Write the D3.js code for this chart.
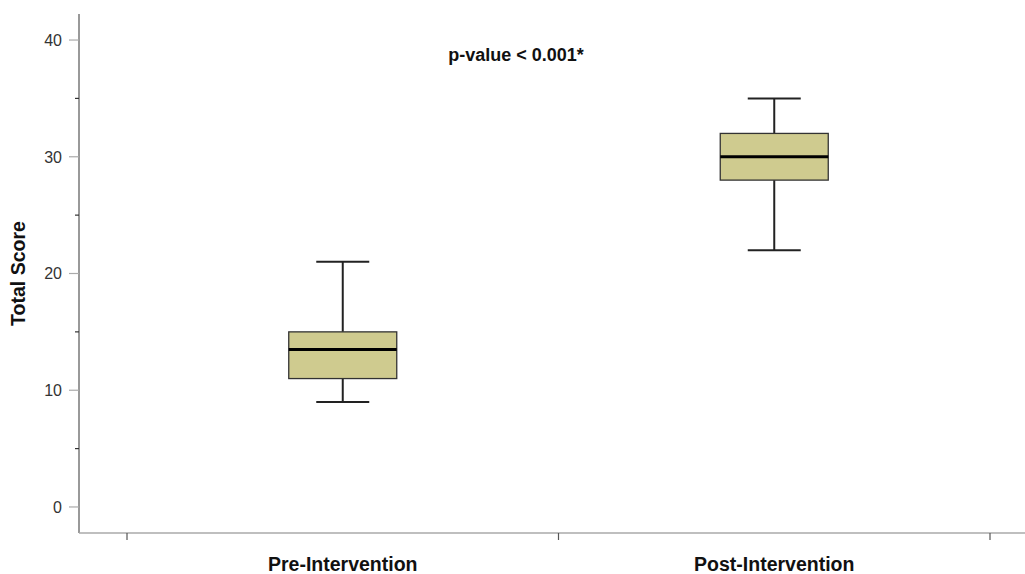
<!DOCTYPE html>
<html>
<head>
<meta charset="utf-8">
<script src="https://cdn.jsdelivr.net/npm/d3@7"></script>
<style>
  body { margin: 0; background: #fff; }
  svg { display: block; font-family: "Liberation Sans", Arial, sans-serif; }
</style>
</head>
<body>
<div id="chart"></div>
<script>
const groups = ["Pre-Intervention", "Post-Intervention"];
const whiskerLow = [9, 22];
const q1 = [11, 28];
const median = [13.5, 30];
const q3 = [15, 32];
const whiskerHigh = [21, 35];
const majorTicks = [0, 10, 20, 30, 40];
const minorTicks = [5, 15, 25, 35];
const annotation = "p-value < 0.001*";

const width = 1025, height = 574;
const svg = d3.select("#chart").append("svg")
  .attr("width", width)
  .attr("height", height);

const x = d3.scaleBand()
  .domain(groups)
  .range([127, 990])
  .paddingInner(0).paddingOuter(0);

const y = d3.scaleLinear()
  .domain([-2.23, 42.23])
  .range([533, 14]);

const left = 79, bottom = 533;

// y axis
svg.append("line")
  .attr("x1", left).attr("x2", left)
  .attr("y1", 14).attr("y2", bottom)
  .attr("stroke", "#555").attr("stroke-width", 1.2);

svg.selectAll(".major")
  .data(majorTicks)
  .enter().append("line")
  .attr("x1", left - 10).attr("x2", left)
  .attr("y1", d => y(d)).attr("y2", d => y(d))
  .attr("stroke", "#aaa").attr("stroke-width", 1.2);

svg.selectAll(".minor")
  .data(minorTicks)
  .enter().append("line")
  .attr("x1", left - 4).attr("x2", left)
  .attr("y1", d => y(d)).attr("y2", d => y(d))
  .attr("stroke", "#333").attr("stroke-width", 1.2);

svg.selectAll(".ylab")
  .data(majorTicks)
  .enter().append("text")
  .attr("x", 62)
  .attr("y", d => y(d))
  .attr("dy", "0.36em")
  .attr("text-anchor", "end")
  .attr("font-size", 16)
  .attr("fill", "#333")
  .text(d => d);

svg.append("text")
  .attr("transform", `translate(25,${y(20)}) rotate(-90)`)
  .attr("text-anchor", "middle")
  .attr("font-size", 19.5)
  .attr("font-weight", "bold")
  .attr("fill", "#111")
  .text("Total Score");

// x axis
svg.append("line")
  .attr("x1", left).attr("x2", width)
  .attr("y1", bottom).attr("y2", bottom)
  .attr("stroke", "#aaa").attr("stroke-width", 1.6);

const xTicks = [x.range()[0], x(groups[1]), x.range()[1]];
svg.selectAll(".xtick")
  .data(xTicks)
  .enter().append("line")
  .attr("x1", d => d).attr("x2", d => d)
  .attr("y1", bottom).attr("y2", bottom + 7)
  .attr("stroke", "#555").attr("stroke-width", 1.2);

svg.selectAll(".xlab")
  .data(groups)
  .enter().append("text")
  .attr("x", d => x(d) + x.bandwidth() / 2)
  .attr("y", 571)
  .attr("text-anchor", "middle")
  .attr("font-size", 19.5)
  .attr("font-weight", "bold")
  .attr("fill", "#111")
  .text(d => d);

// boxes
const boxW = 108, capW = 53;
groups.forEach((g, i) => {
  const cx = x(g) + x.bandwidth() / 2;
  const grp = svg.append("g");
  grp.append("line")
    .attr("x1", cx).attr("x2", cx)
    .attr("y1", y(whiskerHigh[i])).attr("y2", y(q3[i]))
    .attr("stroke", "#222").attr("stroke-width", 2);
  grp.append("line")
    .attr("x1", cx).attr("x2", cx)
    .attr("y1", y(q1[i])).attr("y2", y(whiskerLow[i]))
    .attr("stroke", "#222").attr("stroke-width", 2);
  [whiskerHigh[i], whiskerLow[i]].forEach(v => {
    grp.append("line")
      .attr("x1", cx - capW / 2).attr("x2", cx + capW / 2)
      .attr("y1", y(v)).attr("y2", y(v))
      .attr("stroke", "#222").attr("stroke-width", 2);
  });
  grp.append("rect")
    .attr("x", cx - boxW / 2)
    .attr("y", y(q3[i]))
    .attr("width", boxW)
    .attr("height", y(q1[i]) - y(q3[i]))
    .attr("fill", "#cfcb8f")
    .attr("stroke", "#333").attr("stroke-width", 1.3);
  grp.append("line")
    .attr("x1", cx - boxW / 2).attr("x2", cx + boxW / 2)
    .attr("y1", y(median[i])).attr("y2", y(median[i]))
    .attr("stroke", "#000").attr("stroke-width", 3);
});

svg.append("text")
  .attr("x", 516)
  .attr("y", 61)
  .attr("text-anchor", "middle")
  .attr("font-size", 18)
  .attr("font-weight", "bold")
  .attr("fill", "#111")
  .text(annotation);
</script>
</body>
</html>
